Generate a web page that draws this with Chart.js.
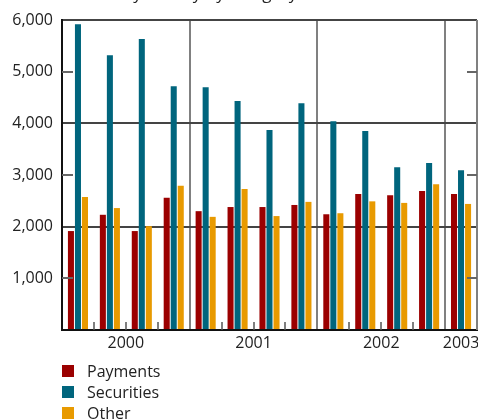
<!DOCTYPE html>
<html>
<head>
<meta charset="utf-8">
<script src="https://cdn.jsdelivr.net/npm/chart.js@4"></script>
<style>
html,body{margin:0;padding:0;background:#fff;}
#wrap{position:relative;width:478px;height:419px;}
</style>
</head>
<body>
<div id="wrap"><canvas id="c" width="478" height="419"></canvas></div>
<script>
const titleText = 'Daily activity by category';
const quarters = ['2000 Q1','2000 Q2','2000 Q3','2000 Q4','2001 Q1','2001 Q2','2001 Q3','2001 Q4','2002 Q1','2002 Q2','2002 Q3','2002 Q4','2003 Q1'];
const payments = [1915, 2230, 1915, 2560, 2300, 2380, 2380, 2420, 2240, 2630, 2610, 2690, 2630];
const securities = [5920, 5320, 5630, 4720, 4700, 4430, 3870, 4390, 4040, 3850, 3150, 3230, 3090];
const other = [2575, 2360, 2010, 2790, 2190, 2730, 2205, 2480, 2260, 2490, 2460, 2820, 2440];
const years = ['2000','2001','2002','2003'];
const yearQuarterCounts = [4, 4, 4, 1];
const seriesNames = ['Payments','Securities','Other'];
const seriesColors = ['#9b0000','#00657d','#e89a00'];
const yGridValues = [2000, 4000, 6000];
const yTickMarks = [1000, 3000, 5000];

const yearStarts = [];
let acc = 0;
yearQuarterCounts.forEach(n => { yearStarts.push(acc); acc += n; });
const yearCenters = yearStarts.map((s, i) => s + yearQuarterCounts[i] / 2);
const yearBoundaryIdx = yearStarts.slice(1);

const FONT = '"Open Sans", "DejaVu Sans", sans-serif';

const extras = {
  id: 'extras',
  afterDraw(chart) {
    const ctx = chart.ctx;
    const ca = chart.chartArea;
    const y = chart.scales.y;
    const x = chart.scales.x;
    const bx = (i) => x.getPixelForValue(i - 0.5); // boundary before category i
    ctx.save();
    // right border
    ctx.strokeStyle = '#808080';
    ctx.lineWidth = 2;
    ctx.beginPath();
    ctx.moveTo(ca.right, ca.top); ctx.lineTo(ca.right, ca.bottom);
    ctx.stroke();
    // inward y ticks (left and right)
    ctx.strokeStyle = '#666';
    ctx.lineWidth = 2;
    yTickMarks.forEach(v => {
      const py = Math.round(y.getPixelForValue(v));
      ctx.beginPath();
      ctx.moveTo(ca.left, py); ctx.lineTo(ca.left + 11, py);
      ctx.moveTo(ca.right - 10, py); ctx.lineTo(ca.right, py);
      ctx.stroke();
    });
    // quarter ticks at bottom
    ctx.strokeStyle = '#555';
    ctx.lineWidth = 1.5;
    for (let i = 1; i < quarters.length; i++) {
      if (yearBoundaryIdx.includes(i)) continue;
      const px = Math.round(bx(i));
      ctx.beginPath();
      ctx.moveTo(px, ca.bottom); ctx.lineTo(px, ca.bottom - 8);
      ctx.stroke();
    }
    // year labels
    ctx.font = '16px ' + FONT;
    ctx.fillStyle = '#222';
    ctx.textAlign = 'center';
    ctx.textBaseline = 'middle';
    years.forEach((yr, i) => {
      ctx.fillText(yr, x.getPixelForValue(yearCenters[i] - 0.5), ca.bottom + 13);
    });
    // legend
    ctx.textAlign = 'left';
    chart.data.datasets.forEach((ds, i) => {
      const cy = 371 + i * 21;
      ctx.fillStyle = ds.backgroundColor;
      ctx.fillRect(62, cy - 6, 12, 12);
      ctx.fillStyle = '#222';
      ctx.fillText(ds.label, 87, cy + 1);
    });
    // clipped title
    ctx.font = '17px ' + FONT;
    ctx.textAlign = 'center';
    ctx.textBaseline = 'alphabetic';
    ctx.fillText(titleText, 200, -1);
    ctx.restore();
  }
};

new Chart(document.getElementById('c'), {
  type: 'bar',
  data: {
    labels: quarters,
    datasets: [
      { label: seriesNames[0], data: payments, backgroundColor: seriesColors[0] },
      { label: seriesNames[1], data: securities, backgroundColor: seriesColors[1] },
      { label: seriesNames[2], data: other, backgroundColor: seriesColors[2] }
    ]
  },
  options: {
    responsive: false,
    animation: false,
    devicePixelRatio: 1,
    layout: { padding: { top: 20, right: 1, left: 0, bottom: 0 } },
    datasets: { bar: { categoryPercentage: 0.66, barPercentage: 0.86 } },
    plugins: { legend: { display: false }, tooltip: { enabled: false }, title: { display: false } },
    scales: {
      x: {
        type: 'category',
        position: 'bottom',
        ticks: { display: false },
        grid: {
          offset: true,
          drawTicks: false,
          lineWidth: 2,
          color: (c) => yearBoundaryIdx.includes(c.index) ? '#808080' : 'rgba(0,0,0,0)'
        },
        border: { display: true, color: '#111', width: 2 },
        afterFit: (s) => { s.height = 89; }
      },
      y: {
        min: 0,
        max: 6000,
        ticks: {
          stepSize: 1000,
          padding: 9,
          color: '#222',
          font: { family: FONT, size: 16 },
          callback: (v) => v === 0 ? '' : v.toLocaleString('en-US')
        },
        grid: {
          drawTicks: false,
          lineWidth: 2,
          color: (c) => (c.tick && yGridValues.includes(c.tick.value)) ? '#444' : 'rgba(0,0,0,0)'
        },
        border: { display: true, color: '#111', width: 2 },
        afterFit: (s) => { s.width = 62; }
      }
    }
  },
  plugins: [extras]
});
</script>
</body>
</html>
